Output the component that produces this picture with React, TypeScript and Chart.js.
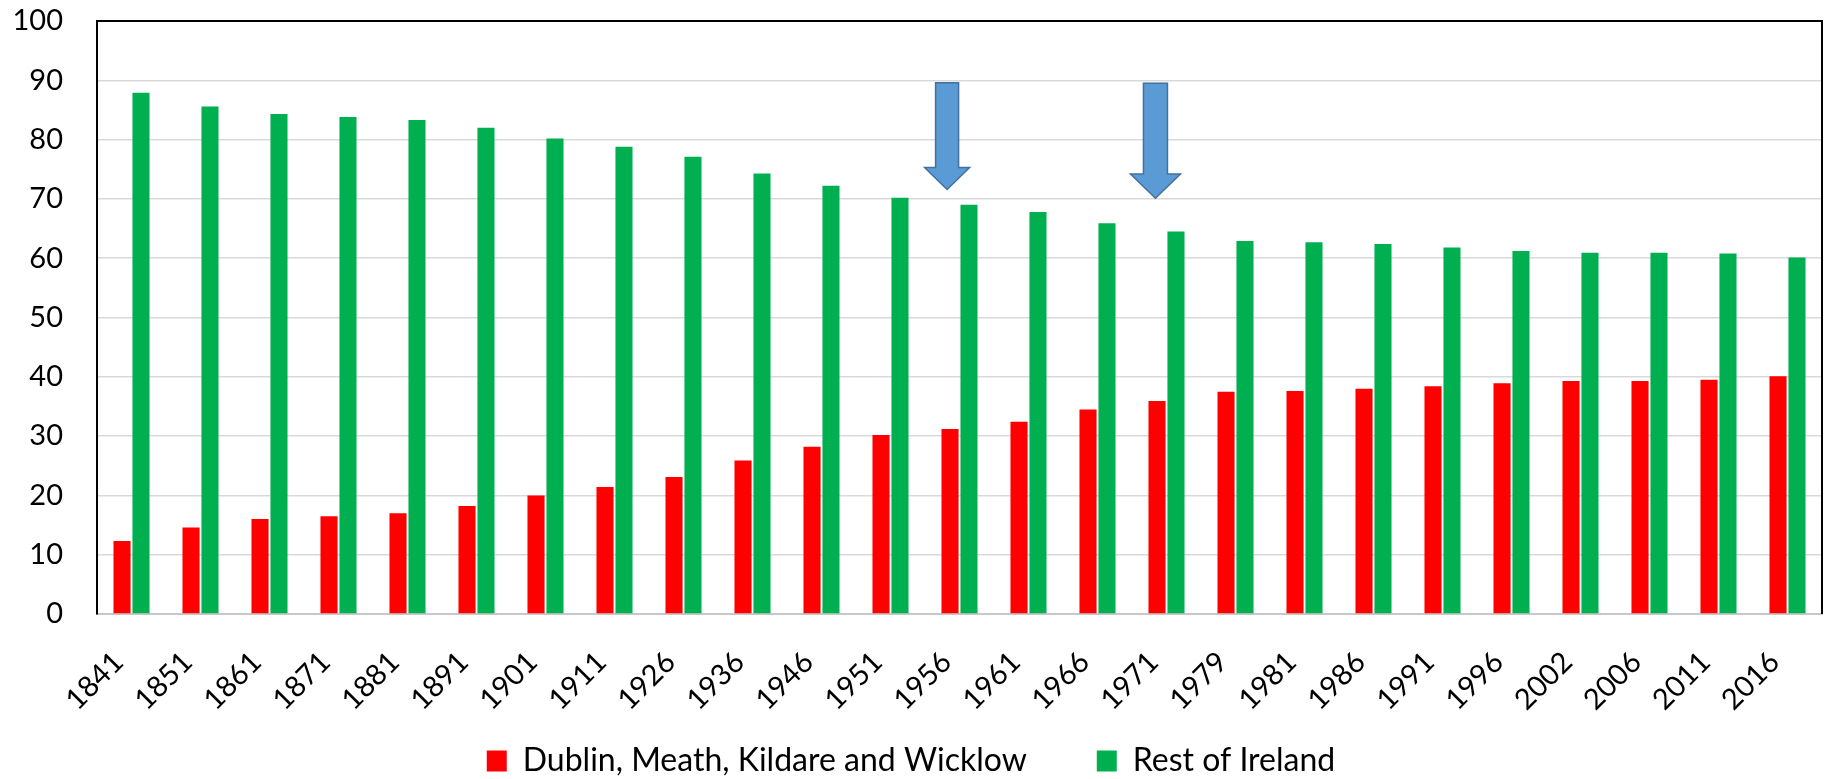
import React, { useEffect, useRef } from 'react';
import { Chart, registerables } from 'chart.js';

Chart.register(...registerables);

const years = ['1841', '1851', '1861', '1871', '1881', '1891', '1901', '1911', '1926', '1936', '1946', '1951', '1956', '1961', '1966', '1971', '1979', '1981', '1986', '1991', '1996', '2002', '2006', '2011', '2016'];
const dublinShare = [12.3, 14.6, 16.0, 16.5, 17.0, 18.2, 20.0, 21.4, 23.1, 25.9, 28.2, 30.2, 31.2, 32.4, 34.5, 35.9, 37.5, 37.6, 38.0, 38.4, 38.9, 39.3, 39.3, 39.5, 40.1];
const restShare = [87.9, 85.6, 84.3, 83.8, 83.3, 82.0, 80.2, 78.8, 77.1, 74.3, 72.2, 70.2, 69.0, 67.8, 65.9, 64.5, 62.9, 62.7, 62.4, 61.8, 61.2, 60.9, 60.9, 60.8, 60.1];
const seriesNames = ['Dublin, Meath, Kildare and Wicklow', 'Rest of Ireland'];
const yTickMin = 0;
const yTickMax = 100;
const yTickStep = 10;

// Annotation arrows (category position, value at top of shaft, head base, tip)
const arrowCategoryPos = [11.82, 14.84];
const arrowTopValue = [89.6, 89.5];
const arrowHeadBaseValue = [75.3, 74.2];
const arrowTipValue = [71.6, 70.1];
const arrowShaftHalf = [11.5, 12];
const arrowHeadHalf = [22.5, 25];

const FONT = 'Lato, "Open Sans", sans-serif';

const arrowPlugin = {
  id: 'arrowAnnotations',
  afterDatasetsDraw(chart: any) {
    const { ctx } = chart;
    const xs = chart.scales.x;
    const ys = chart.scales.y;
    ctx.save();
    arrowCategoryPos.forEach((pos, i) => {
      const cx = xs.getPixelForValue(pos);
      const top = ys.getPixelForValue(arrowTopValue[i]);
      const base = ys.getPixelForValue(arrowHeadBaseValue[i]);
      const tip = ys.getPixelForValue(arrowTipValue[i]);
      const s = arrowShaftHalf[i];
      const h = arrowHeadHalf[i];
      ctx.beginPath();
      ctx.moveTo(cx - s, top);
      ctx.lineTo(cx + s, top);
      ctx.lineTo(cx + s, base);
      ctx.lineTo(cx + h, base);
      ctx.lineTo(cx, tip);
      ctx.lineTo(cx - h, base);
      ctx.lineTo(cx - s, base);
      ctx.closePath();
      ctx.fillStyle = '#5B9BD5';
      ctx.fill();
      ctx.lineWidth = 1.5;
      ctx.strokeStyle = '#41719C';
      ctx.stroke();
    });
    ctx.restore();
  },
};

const frameBorderPlugin = {
  id: 'frameBorder',
  afterDraw(chart: any) {
    const { ctx, chartArea } = chart;
    ctx.save();
    ctx.strokeStyle = '#000000';
    ctx.lineWidth = 2;
    ctx.beginPath();
    ctx.moveTo(chartArea.left, chartArea.top);
    ctx.lineTo(chartArea.right, chartArea.top);
    ctx.lineTo(chartArea.right, chartArea.bottom);
    ctx.stroke();
    ctx.restore();
  },
};

export default function App() {
  const canvasRef = useRef<HTMLCanvasElement | null>(null);

  useEffect(() => {
    if (!canvasRef.current) return;
    const chart = new Chart(canvasRef.current, {
      type: 'bar',
      data: {
        labels: years,
        datasets: [
          {
            label: seriesNames[0],
            data: dublinShare,
            backgroundColor: '#FF0000',
            borderWidth: 0,
            categoryPercentage: 0.55,
            barPercentage: 0.9,
          },
          {
            label: seriesNames[1],
            data: restShare,
            backgroundColor: '#00B050',
            borderWidth: 0,
            categoryPercentage: 0.55,
            barPercentage: 0.9,
          },
        ],
      },
      options: {
        animation: false,
        responsive: false,
        devicePixelRatio: 1,
        layout: { padding: { top: 21, right: 2, left: 0, bottom: 0 } },
        scales: {
          x: {
            grid: { display: false, drawTicks: false },
            border: { display: true, color: '#C8C8C8', width: 2 },
            ticks: {
              autoSkip: false,
              maxRotation: 45,
              minRotation: 45,
              padding: 31,
              labelOffset: -13,
              color: '#000000',
              font: { family: FONT, size: 29 },
            },
            afterFit: (scale: any) => {
              scale.height = 61;
              scale.paddingLeft = 0;
              scale.paddingRight = 0;
              // let rotated labels draw below the (short) axis box without clipping
              scale._computeLabelArea = () => undefined;
            },
          },
          y: {
            min: yTickMin,
            max: yTickMax,
            ticks: {
              stepSize: yTickStep,
              padding: 34,
              color: '#000000',
              font: { family: FONT, size: 29 },
            },
            grid: { color: '#D9D9D9', lineWidth: 1.5, drawTicks: false },
            border: { display: true, color: '#000000', width: 2 },
            afterFit: (scale: any) => {
              scale.width = 97;
              scale.paddingTop = 0;
              scale.paddingBottom = 0;
            },
          },
        },
        plugins: {
          legend: {
            position: 'bottom',
            maxHeight: 104,
            labels: {
              boxWidth: 20,
              boxHeight: 21,
              padding: 70,
              color: '#000000',
              font: { family: FONT, size: 32 },
            },
          },
          tooltip: { enabled: false },
        },
      },
      plugins: [arrowPlugin, frameBorderPlugin],
    });
    return () => chart.destroy();
  }, []);

  return (
    <div style={{ position: 'absolute', left: 0, top: 0, width: 1824, height: 779, background: '#ffffff' }}>
      <canvas ref={canvasRef} width={1824} height={779} />
    </div>
  );
}
